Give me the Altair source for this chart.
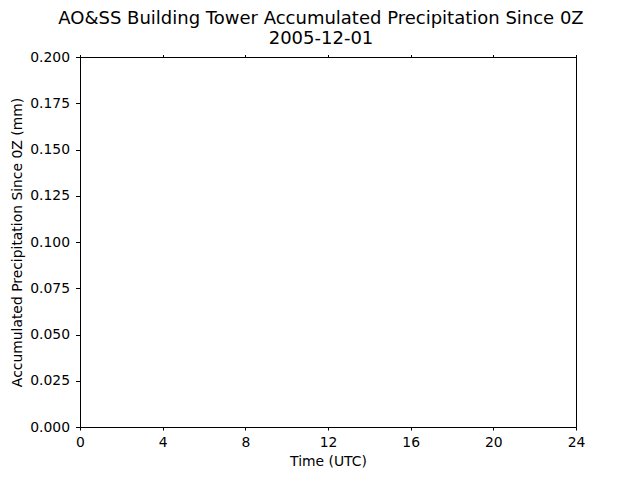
import altair as alt
import pandas as pd

# The reference chart shows no recorded precipitation: the series is empty.
time_utc = []
precip_mm = []

x_ticks = [0, 4, 8, 12, 16, 20, 24]
y_ticks = [0.0, 0.025, 0.05, 0.075, 0.1, 0.125, 0.15, 0.175, 0.2]

df = pd.DataFrame({"time": pd.Series(time_utc, dtype=float),
                   "precip": pd.Series(precip_mm, dtype=float)})

FONT = "DejaVu Sans"

xscale = alt.Scale(domain=[0, 24], nice=False, zero=False)
yscale = alt.Scale(domain=[0, 0.2], nice=False)

yaxis = alt.Axis(values=y_ticks, format=".3f", grid=False,
                 title="Accumulated Precipitation Since 0Z (mm)",
                 tickSize=4.5, labelPadding=6, titlePadding=5, labelFlush=False)

base = alt.Chart(df)

main = base.mark_line(color="#1f77b4").encode(
    x=alt.X("time:Q", scale=xscale,
            axis=alt.Axis(orient="bottom", values=x_ticks, title="Time (UTC)",
                          grid=False, tickSize=3, labelPadding=5,
                          titlePadding=6, format="d", labelFlush=False)),
    y=alt.Y("precip:Q", scale=yscale, axis=yaxis),
)

top = base.mark_line(color="#1f77b4").encode(
    x=alt.X("time:Q", scale=xscale,
            axis=alt.Axis(orient="top", values=x_ticks, title=None, labels=False,
                          grid=False, tickSize=2.5, domain=True)),
    y=alt.Y("precip:Q", scale=yscale, axis=yaxis),
)

chart = alt.layer(main, top).resolve_axis(x="independent", y="shared").properties(
    width=496,
    height=370,
    padding={"left": 72, "top": 49, "right": 56, "bottom": 45},
    autosize=alt.AutoSizeParams(type="none"),
    background="white",
    title=alt.TitleParams(
        text=["AO&SS Building Tower Accumulated Precipitation Since 0Z", "2005-12-01"],
        font=FONT, fontSize=18, fontWeight="normal", color="black",
        anchor="middle", lineHeight=20, offset=4, dy=2, dx=-7,
    ),
).configure_view(
    stroke="black", strokeWidth=1
).configure_axis(
    labelFont=FONT, titleFont=FONT, labelFontSize=13.9, titleFontSize=13.9,
    labelColor="black", titleColor="black", domainColor="black",
    tickColor="black", titleFontWeight="normal", domainWidth=1, tickWidth=1,
)

chart.save("out.html", embed_options={"renderer": "svg", "actions": False})
